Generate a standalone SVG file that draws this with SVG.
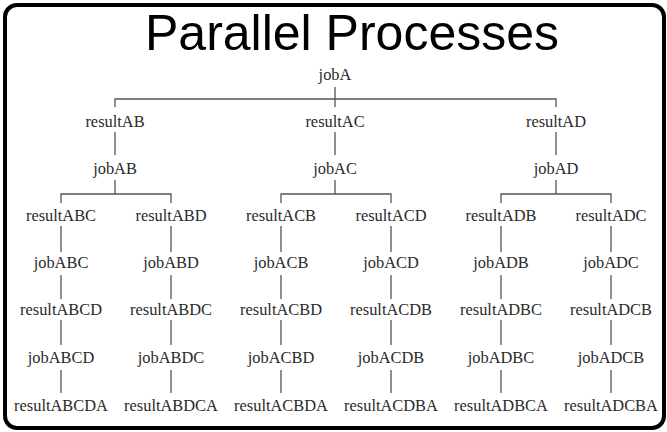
<svg xmlns="http://www.w3.org/2000/svg" width="667" height="432" viewBox="0 0 667 432">
<style>
.t{font-family:"Liberation Serif","Times New Roman",serif;font-size:16.4px;fill:#2a2a2a;text-anchor:middle}
.title{font-family:"Liberation Sans",Arial,sans-serif;font-size:50px;fill:#000;text-anchor:middle}
.c{stroke:#555;stroke-width:1.3;fill:none}
</style>
<rect x="5" y="5" width="659" height="423" rx="12" ry="12" fill="#fff" stroke="#000" stroke-width="4"/>
<text class="title" x="352" y="50">Parallel Processes</text>
<g id="connectors" class="c">
<path d="M335 87V99M115 107V99H556V107M335 99V107"/>
<path d="M115 132V155M335 132V155M556 132V155"/>
<path d="M115 180V194M61 203V194H171V203"/>
<path d="M335 180V194M281 203V194H391V203"/>
<path d="M556 180V194M501 203V194H611V203"/>
<path d="M61 226V252M171 226V252M281 226V252M391 226V252M501 226V252M611 226V252"/>
<path d="M61 275V299M171 275V299M281 275V299M391 275V299M501 275V299M611 275V299"/>
<path d="M61 320V345M171 320V345M281 320V345M391 320V345M501 320V345M611 320V345"/>
<path d="M61 370V393M171 370V393M281 370V393M391 370V393M501 370V393M611 370V393"/>
</g>
<g id="jobA"><text class="t" x="335" y="80">jobA</text></g>
<g id="resultAB"><text class="t" x="115" y="127">resultAB</text></g>
<g id="resultAC"><text class="t" x="335" y="127">resultAC</text></g>
<g id="resultAD"><text class="t" x="556" y="127">resultAD</text></g>
<g id="jobAB"><text class="t" x="115" y="174">jobAB</text></g>
<g id="jobAC"><text class="t" x="335" y="174">jobAC</text></g>
<g id="jobAD"><text class="t" x="556" y="174">jobAD</text></g>
<g id="resultABC"><text class="t" x="61" y="221">resultABC</text></g>
<g id="resultABD"><text class="t" x="171" y="221">resultABD</text></g>
<g id="resultACB"><text class="t" x="281" y="221">resultACB</text></g>
<g id="resultACD"><text class="t" x="391" y="221">resultACD</text></g>
<g id="resultADB"><text class="t" x="501" y="221">resultADB</text></g>
<g id="resultADC"><text class="t" x="611" y="221">resultADC</text></g>
<g id="jobABC"><text class="t" x="61" y="268">jobABC</text></g>
<g id="jobABD"><text class="t" x="171" y="268">jobABD</text></g>
<g id="jobACB"><text class="t" x="281" y="268">jobACB</text></g>
<g id="jobACD"><text class="t" x="391" y="268">jobACD</text></g>
<g id="jobADB"><text class="t" x="501" y="268">jobADB</text></g>
<g id="jobADC"><text class="t" x="611" y="268">jobADC</text></g>
<g id="resultABCD"><text class="t" x="61" y="315">resultABCD</text></g>
<g id="resultABDC"><text class="t" x="171" y="315">resultABDC</text></g>
<g id="resultACBD"><text class="t" x="281" y="315">resultACBD</text></g>
<g id="resultACDB"><text class="t" x="391" y="315">resultACDB</text></g>
<g id="resultADBC"><text class="t" x="501" y="315">resultADBC</text></g>
<g id="resultADCB"><text class="t" x="611" y="315">resultADCB</text></g>
<g id="jobABCD"><text class="t" x="61" y="363">jobABCD</text></g>
<g id="jobABDC"><text class="t" x="171" y="363">jobABDC</text></g>
<g id="jobACBD"><text class="t" x="281" y="363">jobACBD</text></g>
<g id="jobACDB"><text class="t" x="391" y="363">jobACDB</text></g>
<g id="jobADBC"><text class="t" x="501" y="363">jobADBC</text></g>
<g id="jobADCB"><text class="t" x="611" y="363">jobADCB</text></g>
<g id="resultABCDA"><text class="t" x="61" y="411">resultABCDA</text></g>
<g id="resultABDCA"><text class="t" x="171" y="411">resultABDCA</text></g>
<g id="resultACBDA"><text class="t" x="281" y="411">resultACBDA</text></g>
<g id="resultACDBA"><text class="t" x="391" y="411">resultACDBA</text></g>
<g id="resultADBCA"><text class="t" x="501" y="411">resultADBCA</text></g>
<g id="resultADCBA"><text class="t" x="611" y="411">resultADCBA</text></g>
</svg>
